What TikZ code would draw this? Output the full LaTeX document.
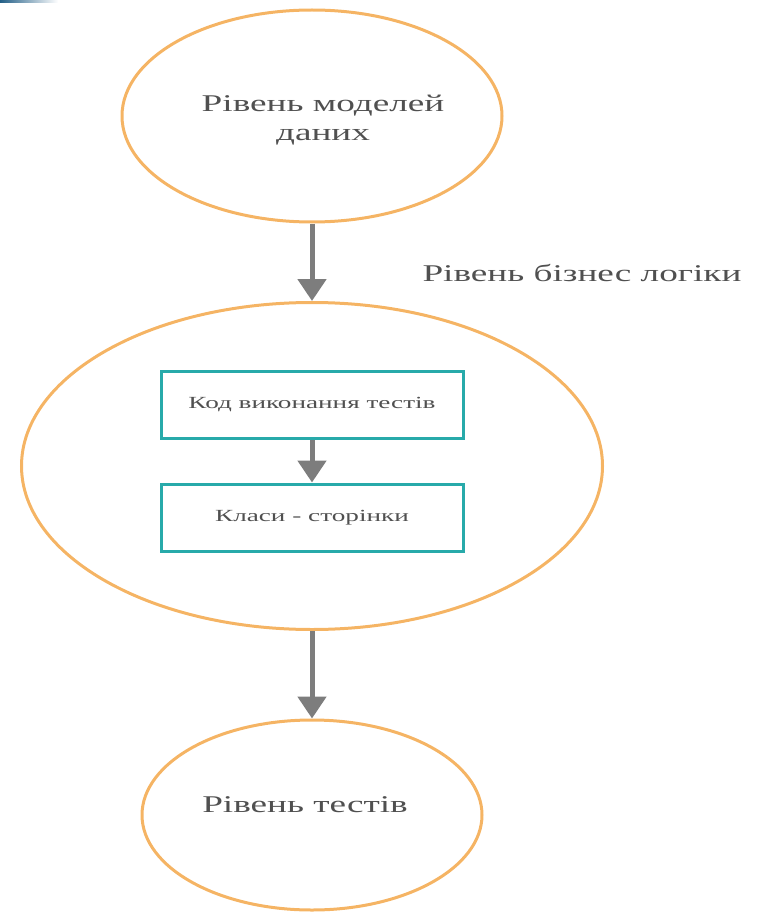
\documentclass[tikz,border=0pt]{standalone}
\usepackage{fontspec}
\setmainfont{Liberation Serif}
\newfontfamily\widefont[FakeStretch=1.55]{Liberation Serif}
\newfontfamily\boxfont[FakeStretch=1.6]{Liberation Serif}
\usetikzlibrary{shapes.geometric,arrows.meta,positioning}
\definecolor{levelorange}{RGB}{245,180,100}
\definecolor{boxteal}{RGB}{40,170,170}
\definecolor{flowgrey}{RGB}{125,125,125}
\definecolor{textgrey}{RGB}{80,80,80}
\definecolor{bandblue}{RGB}{35,95,135}
\tikzset{
  level/.style={ellipse,draw=levelorange,line width=3pt,inner sep=0pt},
  leveltext/.style={text=textgrey,align=center,
    font=\widefont\fontsize{24}{29}\selectfont},
  codebox/.style={rectangle,draw=boxteal,line width=3pt,minimum width=302pt,
    minimum height=67pt,text=textgrey,font=\boxfont\fontsize{17}{20}\selectfont},
  flow/.style={draw=flowgrey,line width=5pt,-{Triangle[width=28pt,length=22pt]}},
}
\begin{document}
\begin{tikzpicture}[x=1pt,y=-1pt]
  \useasboundingbox (0,0) rectangle (770,912);
  \shade[left color=bandblue,right color=white] (0,0) rectangle (58,3);
  % levels
  \node[level,minimum width=380pt,minimum height=212pt] (models) at (312,116) {};
  \node[level,minimum width=581pt,minimum height=327pt] (logic) at (312,466) {};
  \node[level,minimum width=340pt,minimum height=190pt] (tests) at (312,815) {};
  \node[leveltext] (modelstext) at (323,120) {Рівень моделей\\даних};
  \node[leveltext] (teststext) at (305,805) {Рівень тестів};
  \node[leveltext] (logictext) at (582,273) {Рівень бізнес логіки};
  % inner boxes
  \node[codebox] (runcode) at (312,404.5) {Код виконання тестів};
  \node[codebox] (pages) at (312,517.5) {Класи - сторінки};
  % arrows
  \draw[flow] (models.south) -- (logic.north);
  \draw[flow] (runcode.south) -- (pages.north);
  \draw[flow] (logic.south) -- (tests.north);
\end{tikzpicture}
\end{document}
